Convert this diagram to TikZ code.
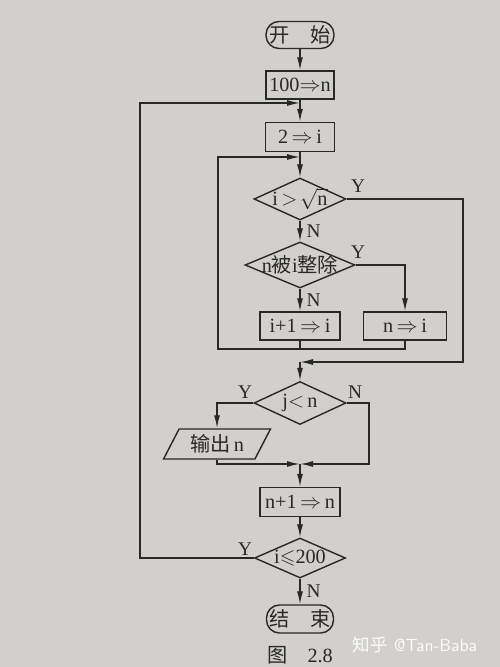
\documentclass[tikz,border=0pt]{standalone}
\usepackage{amsmath,amssymb}
\usepackage{fontspec}
\setmainfont{Liberation Serif}
\newfontfamily\cjk{Noto Sans CJK SC}
\usepackage{tikz}
\usetikzlibrary{shapes,arrows.meta,positioning,calc}
\usepackage{xcolor}
\definecolor{paper}{RGB}{210,208,204}
\definecolor{ink}{RGB}{40,40,40}

\tikzset{
  box/.style={draw=ink, line width=0.8pt, rectangle, minimum width=1.6cm, minimum height=0.56cm, inner sep=1pt},
  term/.style={draw=ink, line width=0.8pt, rectangle, rounded corners=0.26cm, minimum width=1.36cm, minimum height=0.54cm, inner sep=1pt},
  decision/.style={draw=ink, line width=0.8pt, diamond, aspect=2.2, inner sep=-3pt, minimum width=1.84cm, minimum height=0.84cm},
  iobox/.style={draw=ink, line width=0.8pt, trapezium, trapezium left angle=62, trapezium right angle=118, trapezium stretches=true, minimum width=2.14cm, minimum height=0.6cm, inner sep=1pt},
  flow/.style={draw=ink, line width=0.8pt, -{Latex[length=2.6mm,width=1.2mm]}},
  link/.style={draw=ink, line width=0.8pt},
  yn/.style={font=\fontsize{11}{12}\selectfont, text=ink}
}

\begin{document}
\begin{tikzpicture}[every node/.style={font=\fontsize{11.5}{13}\selectfont, text=ink}]
            \fill[paper] (0,0) rectangle (10,13.34);
            \useasboundingbox (0,0) rectangle (10,13.34);
            % main column
            \node[term] (start) at (6.0,12.64) {\cjk 开\quad 始};
            \node[box, minimum width=1.36cm] (setn) at (6.0,11.64) {100$\Rightarrow$n};
            \node[box, minimum width=1.38cm, minimum height=0.58cm] (seti) at (6.0,10.6) {2$\,\Rightarrow\,$i};
            \node[decision] (cmproot) at (6.0,9.36) {i\,$>\!\sqrt{\mbox{n}}$};
            \node[decision, minimum width=2.2cm, minimum height=0.92cm] (divides) at (6.0,8.04) {n{\cjk 被}i{\cjk 整除}};
            \node[box] (inci) at (6.0,6.82) {i+1$\,\Rightarrow\,$i};
            \node[box, minimum width=1.66cm] (copyn) at (8.1,6.82) {n$\,\Rightarrow\,$i};
            \node[decision, minimum height=0.86cm] (cmpn) at (6.0,5.28) {j$<$\,n};
            \node[iobox] (printn) at (4.34,4.46) {{\cjk 输出}\,n};
            \node[box, minimum height=0.58cm] (incn) at (6.0,3.3) {n+1$\,\Rightarrow\,$n};
            \node[decision, minimum width=1.82cm, minimum height=0.8cm] (cmpend) at (6.0,2.18) {i$\leqslant$200};
            \node[term, minimum width=1.34cm, minimum height=0.56cm] (stop) at (6.0,0.96) {\cjk 结\quad 束};
            \node (caption) at (6.0,0.24) {{\cjk 图}\quad 2.8};
            \node[text=white!92!paper, font=\fontsize{10}{12}\selectfont\sffamily] (mark) at (8.3,0.44) {{\cjk 知乎} @Tan-Baba};

            % junction points
            \coordinate (outer) at (6.0,11.28);
            \coordinate (inner) at (6.0,10.2);
            \coordinate (innerlow) at (4.36,6.36);
            \coordinate (found) at (6.0,6.1);
            \coordinate (merge) at (6.0,4.06);

            % straight arrows
            \draw[flow] (start) -- (setn);
            \draw[flow] (setn) -- (seti);
            \draw[flow] (seti) -- (cmproot);
            \draw[flow] (cmproot) -- node[yn, right] {N} (divides);
            \draw[flow] (divides) -- node[yn, right] {N} (inci);
            \draw[flow] (divides.east) -- (copyn.north |- divides.east) -- (copyn.north);
            \draw[flow] (found) -- (cmpn.north);
            \draw[flow] (merge) -- (incn);
            \draw[flow] (incn) -- (cmpend);
            \draw[flow] (cmpend) -- node[yn, right] {N} (stop);

            % inner loop
            \draw[link] (inci.south) -- (inci.south |- innerlow);
            \draw[flow] (copyn.south) -- (copyn.south |- innerlow) -- (innerlow) -- (innerlow |- inner) -- (inner);
            % i > sqrt(n): Y
            \draw[flow] (cmproot.east) -- (9.26,9.36) -- (9.26,6.1) -- (found);
            % j < n
            \draw[flow] (cmpn.west) -- (printn.north |- cmpn.west) -- (printn.north);
            \draw[flow] (printn.south) -- (printn.south |- merge) -- (merge);
            \draw[flow] (cmpn.east) -- (7.38,5.28) -- (7.38,4.06) -- (merge);
            % outer loop
            \draw[flow] (cmpend.west) -- (2.8,2.18) -- (2.8,11.28) -- (outer);

            % Y labels
            \node[yn] at (7.16,9.62) {Y};
            \node[yn] at (7.16,8.3) {Y};
            \node[yn] at (4.9,5.5) {Y};
            \node[yn] at (7.1,5.5) {N};
            \node[yn] at (4.9,2.36) {Y};
        \end{tikzpicture}
\end{document}
